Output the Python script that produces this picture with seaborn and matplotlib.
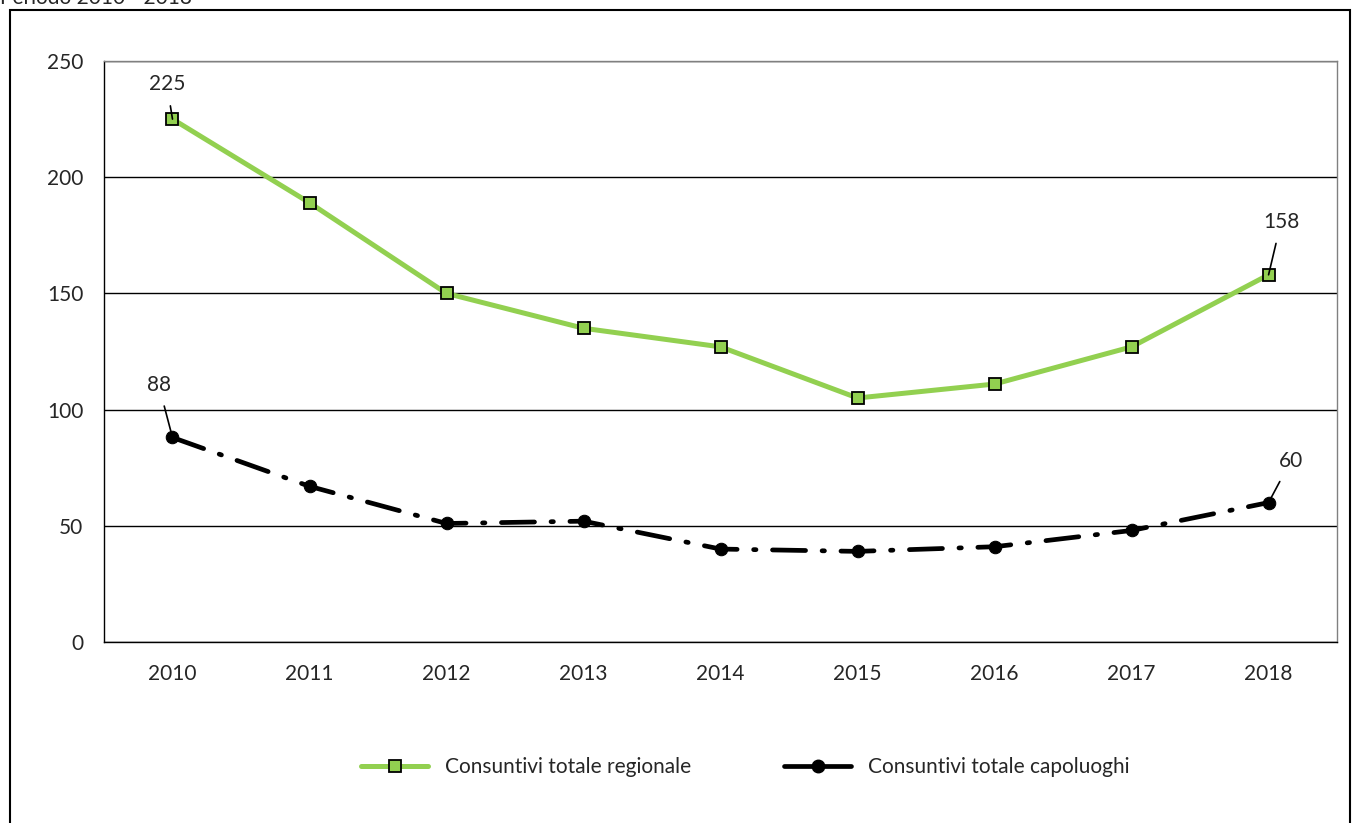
import matplotlib
matplotlib.use("Agg")
import matplotlib.pyplot as plt
import numpy as np
import seaborn as sns
import pandas as pd
from matplotlib.patches import Rectangle
from matplotlib.lines import Line2D

anni = ['2010', '2011', '2012', '2013', '2014', '2015', '2016', '2017', '2018']
regionale = [225, 189, 150, 135, 127, 105, 111, 127, 158]
capoluoghi = [88, 67, 51, 52, 40, 39, 41, 48, 60]
nome_reg = 'Consuntivi totale regionale'
nome_cap = 'Consuntivi totale capoluoghi'

df = pd.DataFrame({'pos': np.arange(len(anni)), 'anno': anni,
                   nome_reg: regionale, nome_cap: capoluoghi})

sns.set_style("white")
plt.rcParams['font.family'] = ['Lato', 'DejaVu Sans']

fig = plt.figure(figsize=(13.54, 8.23), dpi=100)
ax = fig.add_axes([0.0768, 0.2199, 0.9107, 0.706])

# outer frame of the chart area
fig.patches.append(Rectangle((10 / 1354, -0.1), 1340 / 1354, 1.1 - 10 / 823,
                             transform=fig.transFigure, fill=False,
                             edgecolor='black', lw=1.5))
fig.text(0.0, 1.0 - 4 / 823, 'Periodo 2010 - 2018', fontsize=15,
         va='baseline', ha='left')

sns.lineplot(data=df, x='pos', y=nome_reg, ax=ax, color='#92D050', lw=3.6,
             marker='s', markersize=9, markerfacecolor='#92D050',
             markeredgecolor='black', markeredgewidth=1.3, legend=False)
sns.lineplot(data=df, x='pos', y=nome_cap, ax=ax, color='black', lw=3.4,
             marker='o', markersize=9, markerfacecolor='black',
             markeredgecolor='black', legend=False)
ax.lines[1].set_dashes((7, 3.5, 0.5, 3.5))
ax.lines[1].set_dash_capstyle('round')

ax.set_xlim(-0.5, len(anni) - 0.5)
ax.set_ylim(0, 250)
ax.set_yticks(range(0, 251, 50))
ax.set_xticks(np.arange(len(anni)))
ax.set_xticklabels(anni)
ax.set_xticks(np.arange(-0.5, len(anni)), minor=True)
ax.tick_params(axis='x', which='major', length=0, pad=16, labelsize=15)
ax.tick_params(axis='x', which='minor', length=7, width=1, color='black', direction='out')
ax.tick_params(axis='y', length=7, width=1, color='black', direction='out', labelsize=15, pad=8)
ax.set_xlabel('')
ax.set_ylabel('')
ax.yaxis.grid(True, color='black', lw=1)
ax.set_axisbelow(True)
for s in ['left', 'bottom']:
    ax.spines[s].set_color('black')
    ax.spines[s].set_linewidth(1)
for s in ['top', 'right']:
    ax.spines[s].set_color('#808080')
    ax.spines[s].set_linewidth(1)

def etichetta(i, v, dx, dy):
    ax.annotate(str(v), xy=(i, v), xytext=(dx, dy), textcoords='offset points',
                ha='center', va='center', fontsize=15,
                arrowprops=dict(arrowstyle='-', color='black', lw=1.2,
                                shrinkA=6, shrinkB=0))

etichetta(0, regionale[0], -4, 25)
etichetta(8, regionale[8], 9, 38)
etichetta(0, capoluoghi[0], -10, 38)
etichetta(8, capoluoghi[8], 16, 30)

maniglie = [
    Line2D([], [], color='#92D050', lw=3.6, marker='s', markersize=9,
           markerfacecolor='#92D050', markeredgecolor='black', markeredgewidth=1.3),
    Line2D([], [], color='black', lw=3.4, marker='o', markersize=9,
           markerfacecolor='black', solid_capstyle='round'),
]
ax.legend(maniglie, [nome_reg, nome_cap], loc='center', bbox_to_anchor=(0.52, -0.215),
          ncol=2, frameon=False, fontsize=15, handlelength=3.2,
          columnspacing=4.5, handletextpad=0.8)

fig.savefig('out.png', dpi=100)
